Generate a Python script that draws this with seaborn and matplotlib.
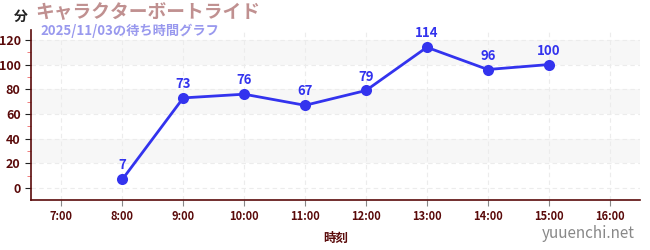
import matplotlib
matplotlib.use("Agg")
import matplotlib.pyplot as plt
import seaborn as sns
import pandas as pd
from matplotlib.ticker import MultipleLocator

hours = [8, 9, 10, 11, 12, 13, 14, 15]
waits = [7, 73, 76, 67, 79, 114, 96, 100]
tick_hours = [7, 8, 9, 10, 11, 12, 13, 14, 15, 16]
tick_labels = [f"{h}:00" for h in tick_hours]
title = "キャラクターボートライド"
subtitle = "2025/11/03の待ち時間グラフ"

sns.set_style("white")
plt.rcParams['font.family'] = ['Noto Sans CJK JP', 'DejaVu Sans']

df = pd.DataFrame({"hour": hours, "wait": waits})

fig = plt.figure(figsize=(6.5, 2.5), dpi=100)
ax = fig.add_axes([31/650, 50/250, 609/650, 170/250])
dark = "#5a0a0a"

# bands
for lo in (20, 60, 100):
    ax.axhspan(lo, lo + 20, color="#f7f7f7", zorder=0, lw=0)
for y in range(0, 121, 20):
    ax.axhline(y, color="#ececec", lw=0.8, ls=(0, (4, 3)), zorder=0.5)
for h in tick_hours:
    ax.axvline(h, color="#ececec", lw=0.8, ls=(0, (4, 3)), zorder=0.5)

sns.lineplot(data=df, x="hour", y="wait", ax=ax, color="#3333ee", lw=2,
             marker="o", markersize=8, markeredgewidth=0, zorder=3)
for h, w in zip(hours, waits):
    ax.annotate(str(w), (h, w), xytext=(0, 5), textcoords="offset points",
                ha="center", va="bottom", color="#3333ee", fontsize=9.5,
                fontweight="bold")

ax.set_xlim(6.5, 16.5)
ax.set_ylim(-9.7, 128)
ax.set_xticks(tick_hours)
ax.set_xticklabels(tick_labels, fontsize=8, color=dark, fontweight="bold")
ax.set_yticks(range(0, 121, 20))
ax.yaxis.set_minor_locator(MultipleLocator(10))
ax.tick_params(axis="y", which="major", length=4, color="#222222", labelsize=9, labelcolor=dark, direction="out", left=True)
ax.tick_params(axis="y", which="minor", length=3, color="#ee6666", left=True)
ax.tick_params(axis="x", which="major", length=4, color="#888888", bottom=True)
for lbl in ax.get_yticklabels():
    lbl.set_fontweight("bold")
ax.set_xlabel("時刻", fontsize=9, color=dark, fontweight="bold", labelpad=6)
ax.set_ylabel("")
for s in ("top", "right"):
    ax.spines[s].set_visible(False)
for s in ("left", "bottom"):
    ax.spines[s].set_color(dark)
    ax.spines[s].set_linewidth(1.2)

fig.text(14/650, 1 - 17/250, "分", fontsize=10, color="#222222", fontweight="bold", ha="left", va="center")
fig.text(35/650, 1 - 13/250, title, fontsize=13.5, color="#c09090", fontweight="bold", ha="left", va="center")
fig.text(40/650, 1 - 31/250, subtitle, fontsize=9.5, color="#9999ee", fontweight="bold", ha="left", va="center")
fig.text(635/650, 1 - 234/250, "yuuenchi.net", fontsize=11, color="#888888", ha="right", va="center")

fig.savefig("out.png", dpi=100)
